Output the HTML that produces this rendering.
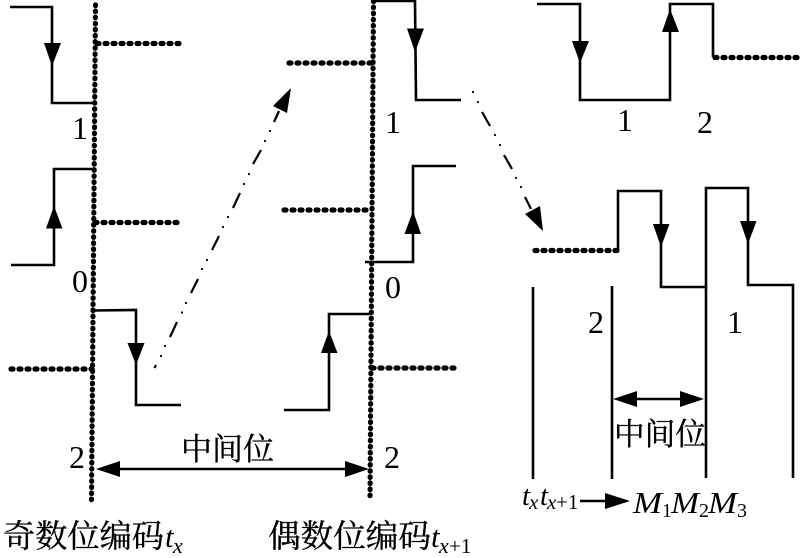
<!DOCTYPE html>
<html>
<head>
<meta charset="utf-8">
<style>
html,body{margin:0;padding:0;background:#fff;}
svg{display:block;}
.n{font-family:"Liberation Serif",serif;font-size:32px;fill:#000;}
.z{font-family:"Noto Serif CJK SC","Liberation Serif",serif;fill:#000;stroke:#000;stroke-width:0.35;}
.i{font-family:"Liberation Serif",serif;font-style:italic;fill:#000;}
.s{font-family:"Liberation Serif",serif;fill:#000;}
.l{fill:none;stroke:#000;stroke-width:2.6;stroke-linejoin:miter;}
.d{fill:none;stroke:#000;stroke-width:5.2;stroke-linecap:round;stroke-dasharray:2 6;}
.v{fill:none;stroke:#000;stroke-width:5.2;stroke-linecap:round;stroke-dasharray:0.6 5.5;}
</style>
</head>
<body>
<svg width="800" height="558" viewBox="0 0 800 558" xmlns="http://www.w3.org/2000/svg">
<rect width="800" height="558" fill="#fff"/>

<!-- dotted verticals -->
<path class="v" d="M95.500 5L91.500 500"/>
<path class="v" d="M373.500 1L370 500"/>

<!-- left column -->
<polyline class="l" points="10,7 52,7 52,103 95,103"/>
<polygon points="44,43 61,43 52,66"/>
<path class="d" d="M97 43.500H180"/>
<polyline class="l" points="11,265 54,265 54,169 93,169"/>
<polygon points="46,228.500 62.500,228.500 54,206"/>
<path class="d" d="M95 222.500H180"/>
<polyline class="l" points="93,310.500 136,310 136,405 181,405"/>
<polygon points="127.500,343 144.500,343 136,365"/>
<path class="d" d="M11 369H92"/>

<text class="n" x="72" y="139">1</text>
<text class="n" x="72" y="292">0</text>
<text class="n" x="69" y="468">2</text>

<!-- middle double arrow -->
<line x1="110" y1="469" x2="355" y2="469" stroke="#000" stroke-width="2.6"/>
<polygon points="96,469 120,461 120,477"/>
<polygon points="369,469 345,461 345,477"/>
<text class="z" x="181" y="460" font-size="31" textLength="93" lengthAdjust="spacingAndGlyphs">中间位</text>

<!-- middle column -->
<polyline class="l" points="374,1 415,1 416,100 461,100"/>
<polygon points="407,28.500 424,28.500 415,52"/>
<path class="d" d="M289 63H371"/>
<polyline class="l" points="365,262 413,262 413,166 456,166"/>
<polygon points="404.500,234 421,234 413,211"/>
<path class="d" d="M284 210H370"/>
<polyline class="l" points="284,410 329,410 329,314 370,314"/>
<polygon points="321,353 337.500,353 329,331"/>
<path class="d" d="M372 368H457"/>

<text class="n" x="385" y="133">1</text>
<text class="n" x="385" y="298">0</text>
<text class="n" x="384" y="468">2</text>

<!-- dash-dot arrow 1 -->
<g stroke="#000" stroke-width="2.2" fill="none">
<path d="M154.500 368L156 365M170 337L177 322M191 293L198 279M212 250L219 236M233 208L240 193M253 164L261 150M274 122L279 111"/>
</g>
<g fill="#000">
<circle cx="161" cy="356" r="1.100"/><circle cx="165" cy="346" r="1.100"/>
<circle cx="182" cy="312.500" r="1.100"/><circle cx="186" cy="303" r="1.100"/>
<circle cx="202" cy="269" r="1.100"/><circle cx="207" cy="260" r="1.100"/>
<circle cx="223" cy="227" r="1.100"/><circle cx="228" cy="217" r="1.100"/>
<circle cx="244" cy="184" r="1.100"/><circle cx="249" cy="174" r="1.100"/>
<circle cx="265" cy="141" r="1.100"/><circle cx="270" cy="131" r="1.100"/>
</g>
<polygon points="291,88 273,106 287,113"/>

<!-- dash-dot arrow 2 -->
<g stroke="#000" stroke-width="2.2" fill="none">
<path d="M482 112L490 126M504 155L512 169M525 197L531 209"/>
</g>
<g fill="#000">
<circle cx="473" cy="92" r="1.100"/><circle cx="478" cy="102" r="1.100"/>
<circle cx="495" cy="135" r="1.100"/><circle cx="500" cy="145" r="1.100"/>
<circle cx="516" cy="178" r="1.100"/><circle cx="521" cy="187" r="1.100"/>
</g>
<polygon points="543,231 525,214 540,206"/>

<!-- right top -->
<polyline class="l" points="537,4 580,4 580,100 670,100 670,4 713,4 713,57"/>
<polygon points="572,41 589,41 580,63"/>
<polygon points="662,32 679,32 670,9"/>
<path class="d" d="M715 57.500H798"/>
<text class="n" x="617" y="131">1</text>
<text class="n" x="697" y="133">2</text>

<!-- right lower -->
<path class="d" d="M535 250.500H618"/>
<polyline class="l" points="618,250 618,191 661,191 661,287 706,287"/>
<polyline class="l" points="706,478 706,188 748,188 748,285 793,285 793,478"/>
<polygon points="653,224 669.500,224 661,247"/>
<polygon points="740,221 756.500,221 748,244"/>
<line class="l" x1="533" y1="287" x2="533" y2="479"/>
<line class="l" x1="612" y1="286" x2="612" y2="479"/>
<text class="n" x="588" y="333">2</text>
<text class="n" x="727" y="333">1</text>

<line x1="625" y1="399" x2="695" y2="399" stroke="#000" stroke-width="2.4"/>
<polygon points="613,399 637,391 637,407"/>
<polygon points="704,399 680,391 680,407"/>
<text class="z" x="614" y="445" font-size="31" textLength="92" lengthAdjust="spacingAndGlyphs">中间位</text>

<!-- formula -->
<text class="i" x="522" y="505" font-size="29">t</text>
<text class="i" x="529" y="509" font-size="21">x</text>
<text class="i" x="540" y="505" font-size="29">t</text>
<text class="i" x="547" y="509" font-size="21">x</text>
<text class="s" x="556" y="509" font-size="21">+1</text>
<line x1="580" y1="501" x2="610" y2="501" stroke="#000" stroke-width="2.6"/>
<polygon points="630,501 605,493 605,509"/>
<text class="i" x="633" y="513" font-size="31" textLength="29" lengthAdjust="spacingAndGlyphs">M</text>
<text class="s" x="662" y="517" font-size="20">1</text>
<text class="i" x="671" y="513" font-size="31" textLength="28" lengthAdjust="spacingAndGlyphs">M</text>
<text class="s" x="699" y="517" font-size="20">2</text>
<text class="i" x="708" y="513" font-size="31" textLength="29" lengthAdjust="spacingAndGlyphs">M</text>
<text class="s" x="737" y="517" font-size="20">3</text>

<!-- bottom captions -->
<text class="z" x="3" y="547" font-size="32" textLength="161" lengthAdjust="spacingAndGlyphs">奇数位编码</text>
<text class="i" x="165" y="547" font-size="31">t</text>
<text class="i" x="173" y="553" font-size="22">x</text>
<text class="z" x="268" y="547" font-size="32" textLength="163" lengthAdjust="spacingAndGlyphs">偶数位编码</text>
<text class="i" x="431" y="547" font-size="31">t</text>
<text class="i" x="439" y="553" font-size="22">x</text>
<text class="s" x="449" y="553" font-size="21">+1</text>
</svg>
</body>
</html>
